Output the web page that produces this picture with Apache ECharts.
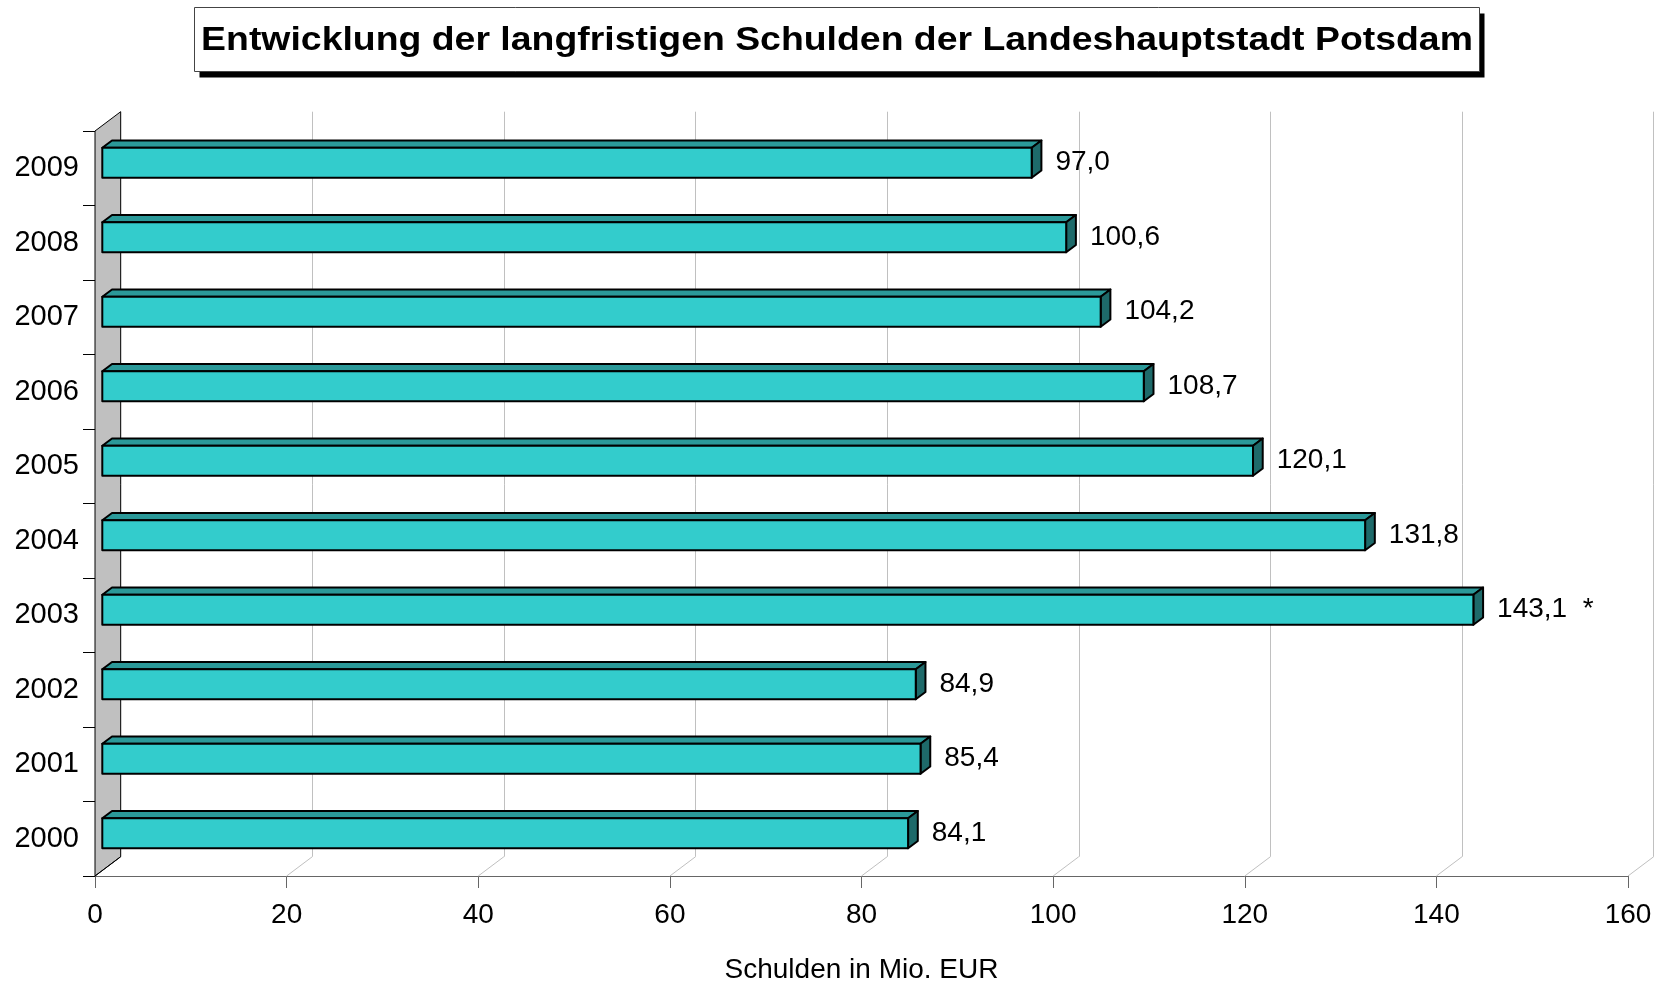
<!DOCTYPE html>
<html>
<head>
<meta charset="utf-8">
<script src="https://cdn.jsdelivr.net/npm/echarts@6/dist/echarts.min.js"></script>
<style>
  html, body { margin: 0; padding: 0; background: #fff; }
  #main { width: 1662px; height: 984px; }
</style>
</head>
<body>
<div id="main"></div>
<script>
var years = ['2000', '2001', '2002', '2003', '2004', '2005', '2006', '2007', '2008', '2009'];
var schulden = [84.1, 85.4, 84.9, 143.1, 131.8, 120.1, 108.7, 104.2, 100.6, 97.0];
var notes = ['', '', '', '*', '', '', '', '', '', ''];
var xTicks = [0, 20, 40, 60, 80, 100, 120, 140, 160];

var FONT = '"Liberation Sans", Arial, sans-serif';
// depth of the fake 3d box
var DX = 25.7, DY = 19.3;
var G = { left: 95, right: 34, top: 131, bottom: 108 };

function fmt(v) {
    return v.toFixed(1).replace('.', ',');
}

function renderBar(params, api) {
    var v = api.value(0);
    var cat = api.value(1);
    var end = api.coord([v, cat]);
    var start = api.coord([0, cat]);
    var band = api.size([0, 1])[1];
    var fx = DX * 0.284, fy = DY * 0.284;
    var tx = DX * 0.378, ty = DY * 0.378;
    var h = band * 0.403;
    var x0 = start[0] + fx, x1 = end[0] + fx;
    var yc = end[1] - fy;
    var yT = yc - h / 2, yB = yc + h / 2;
    var line = { stroke: '#000', lineWidth: 2, lineJoin: 'round' };
    var note = notes[params.dataIndex];
    return {
        type: 'group',
        children: [
            { type: 'polygon', shape: { points: [[x0, yT], [x0 + tx, yT - ty], [x1 + tx, yT - ty], [x1, yT]] },
              style: Object.assign({ fill: '#2B9999' }, line) },
            { type: 'polygon', shape: { points: [[x1, yT], [x1 + tx, yT - ty], [x1 + tx, yB - ty], [x1, yB]] },
              style: Object.assign({ fill: '#1E6A6A' }, line) },
            { type: 'rect', shape: { x: x0, y: yT, width: x1 - x0, height: h },
              style: Object.assign({ fill: '#33CCCC' }, line) },
            { type: 'text', style: { text: fmt(v) + (note ? '  ' + note : ''), x: x1 + tx + 14, y: yc,
              fill: '#000', font: '28px ' + FONT, verticalAlign: 'middle', align: 'left' } }
        ]
    };
}

function renderWall(params, api) {
    var cs = params.coordSys;
    var x = cs.x, top = cs.y, bottom = cs.y + cs.height;
    return {
        type: 'polygon',
        shape: { points: [[x, top], [x + DX, top - DY], [x + DX, bottom - DY], [x, bottom]] },
        style: { fill: '#C0C0C0', stroke: '#000', lineWidth: 1 }
    };
}

function renderFloor(params, api) {
    var cs = params.coordSys;
    var bottom = cs.y + cs.height;
    var x = api.coord([api.value(0), 0])[0];
    return {
        type: 'line',
        shape: { x1: x, y1: bottom, x2: x + DX, y2: bottom - DY },
        style: { stroke: api.value(0) === 0 ? '#000' : '#C0C0C0', lineWidth: 1 }
    };
}

var chart = echarts.init(document.getElementById('main'));
chart.setOption({
    backgroundColor: '#fff',
    animation: false,
    textStyle: { fontFamily: FONT },
    graphic: [{
        type: 'group', left: 194, top: 7,
        children: [
            { type: 'rect', shape: { x: 5, y: 6, width: 1285, height: 64 }, style: { fill: '#000' } },
            { type: 'rect', shape: { x: 0, y: 0, width: 1285, height: 64 }, style: { fill: '#fff', stroke: '#444', lineWidth: 1 } },
            { type: 'text', x: 642.5, y: 33, scaleX: 1.1,
              style: { text: 'Entwicklung der langfristigen Schulden der Landeshauptstadt Potsdam',
              x: 0, y: 0, align: 'center', verticalAlign: 'middle', fill: '#000', font: 'bold 34px ' + FONT } }
        ]
    }],
    grid: [
        { left: G.left, right: G.right, top: G.top, bottom: G.bottom, outerBoundsMode: 'none' },
        { left: G.left + DX, right: G.right - DX, top: G.top - DY, bottom: G.bottom + DY, outerBoundsMode: 'none' }
    ],
    xAxis: [{
        type: 'value', gridIndex: 0, min: 0, max: 160, interval: 20,
        name: 'Schulden in Mio. EUR', nameLocation: 'middle', nameGap: 80,
        nameTextStyle: { fontSize: 28, color: '#000', fontFamily: FONT },
        axisLine: { show: true, lineStyle: { color: '#666', width: 1 } },
        axisTick: { show: true, length: 12, lineStyle: { color: '#666' } },
        axisLabel: { fontSize: 28, color: '#000', margin: 25, fontFamily: FONT },
        splitLine: { show: false }
    }, {
        type: 'value', gridIndex: 1, min: 0, max: 160, interval: 20,
        axisLine: { show: false }, axisTick: { show: false }, axisLabel: { show: false },
        splitLine: { show: true, lineStyle: { color: '#C0C0C0', width: 1 } }
    }],
    yAxis: [{
        type: 'category', gridIndex: 0, data: years,
        axisLine: { show: true, lineStyle: { color: '#000', width: 1 } },
        axisTick: { show: true, length: 12, interval: 0, lineStyle: { color: '#000' } },
        axisLabel: { fontSize: 29, color: '#000', margin: 16, fontFamily: FONT },
        splitLine: { show: false }
    }, {
        type: 'value', gridIndex: 1, show: false
    }],
    series: [{
        type: 'custom', name: 'wall', xAxisIndex: 0, yAxisIndex: 0,
        renderItem: renderWall, data: [[0, 0]], encode: { x: 0, y: 1 }, z: 1, silent: true
    }, {
        type: 'custom', name: 'floor', xAxisIndex: 0, yAxisIndex: 0,
        renderItem: renderFloor, data: xTicks.map(function (v) { return [v, 0]; }),
        encode: { x: 0, y: 1 }, z: 1, silent: true
    }, {
        type: 'custom', name: 'Schulden', xAxisIndex: 0, yAxisIndex: 0,
        renderItem: renderBar,
        data: schulden.map(function (v, i) { return [v, i]; }),
        encode: { x: 0, y: 1 }, z: 3
    }]
});
</script>
</body>
</html>
